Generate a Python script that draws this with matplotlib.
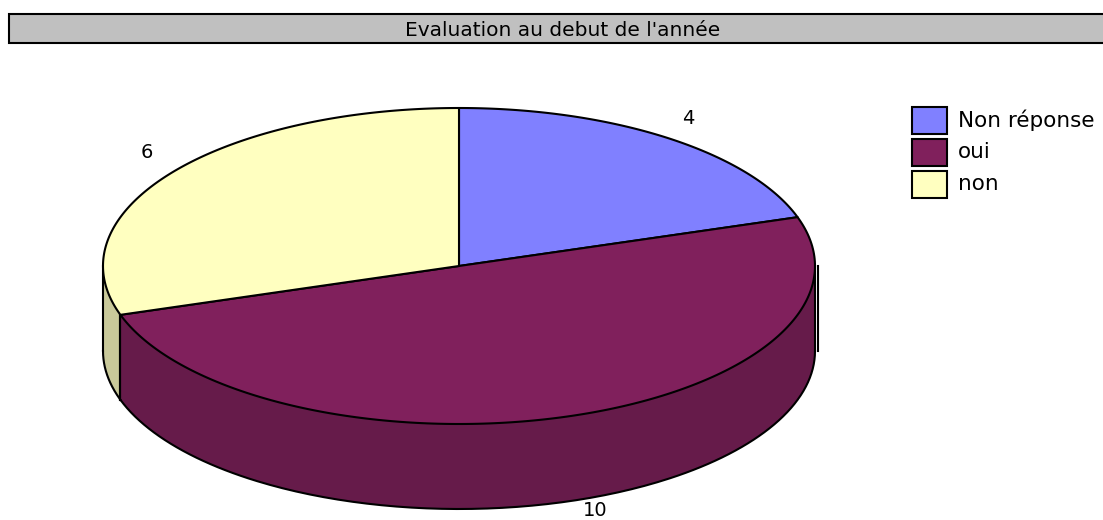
import numpy as np
import matplotlib
matplotlib.use("Agg")
import matplotlib.pyplot as plt

plt.rcParams['font.family'] = ['DejaVu Sans', 'Liberation Sans']

TITLE = "Evaluation au debut de l'année"
categories = ["Non réponse", "oui", "non"]
values = [4, 10, 6]
top_colors = ["#8080ff", "#80205c", "#ffffc0"]
side_colors = ["#6060c0", "#661b4a", "#c9c99a"]

# pie geometry in pixels
CX, CY = 459, 266
RX, RY = 356, 158
DEPTH = 85
LW = 1.5


def ellipse(a0, a1, dy=0):
    # angles in degrees, clockwise from 12 o'clock
    t = np.radians(np.linspace(a0, a1, 200))
    return CX + RX * np.sin(t), CY + dy - RY * np.cos(t)


fig = plt.figure(figsize=(11.03, 5.2), dpi=100)
ax = fig.add_axes([0, 0, 1, 1])
ax.set_xlim(0, 1103)
ax.set_ylim(520, 0)
ax.axis("off")

# title bar
ax.add_patch(plt.Rectangle((8.5, 13.5), 1110, 29, facecolor="#c0c0c0", edgecolor="black", lw=1.5))
ax.text(563, 30.5, TITLE, ha="center", va="center", fontsize=14.5, color="black")

# wedge limits
fracs = np.array(values) / sum(values) * 360
starts = np.concatenate([[0], np.cumsum(fracs)[:-1]])
ends = np.cumsum(fracs)

# side walls, only the front half (90..270) can be seen
for a0, a1, col in zip(starts, ends, side_colors):
    lo, hi = max(a0, 90), min(a1, 270)
    if lo >= hi:
        continue
    x1, y1 = ellipse(lo, hi)
    x2, y2 = ellipse(hi, lo, DEPTH)
    ax.fill(np.r_[x1, x2], np.r_[y1, y2], facecolor=col, edgecolor="none", zorder=1)
    ax.plot(x2, y2, color="black", lw=LW, zorder=2)
    for a in (lo, hi):
        xe, ye = ellipse(a, a)
        ax.plot([xe[0], xe[0]], [ye[0], ye[0] + DEPTH], color="black", lw=LW, zorder=2)

# top faces
for a0, a1, col in zip(starts, ends, top_colors):
    x, y = ellipse(a0, a1)
    ax.fill(np.r_[CX, x], np.r_[CY, y], facecolor=col, edgecolor="black", lw=LW, joinstyle="round", zorder=3)

# stray line right of the pie
ax.plot([CX + RX + 3] * 2, [CY, CY + DEPTH], color="black", lw=LW, zorder=2)

# value labels
label_pos = [(688, 119), (595, 511), (147, 152)]
for v, (lx, ly) in zip(values, label_pos):
    ax.text(lx, ly, str(v), ha="center", va="center", fontsize=14, color="black")

# legend
for i, (name, col) in enumerate(zip(categories, top_colors)):
    y = 107 + i * 32
    ax.add_patch(plt.Rectangle((912, y), 35, 26.5, facecolor=col, edgecolor="black", lw=1.5))
    ax.text(958, y + 13, name, ha="left", va="center", fontsize=15.5, color="black")

fig.savefig("out.png", dpi=100)
